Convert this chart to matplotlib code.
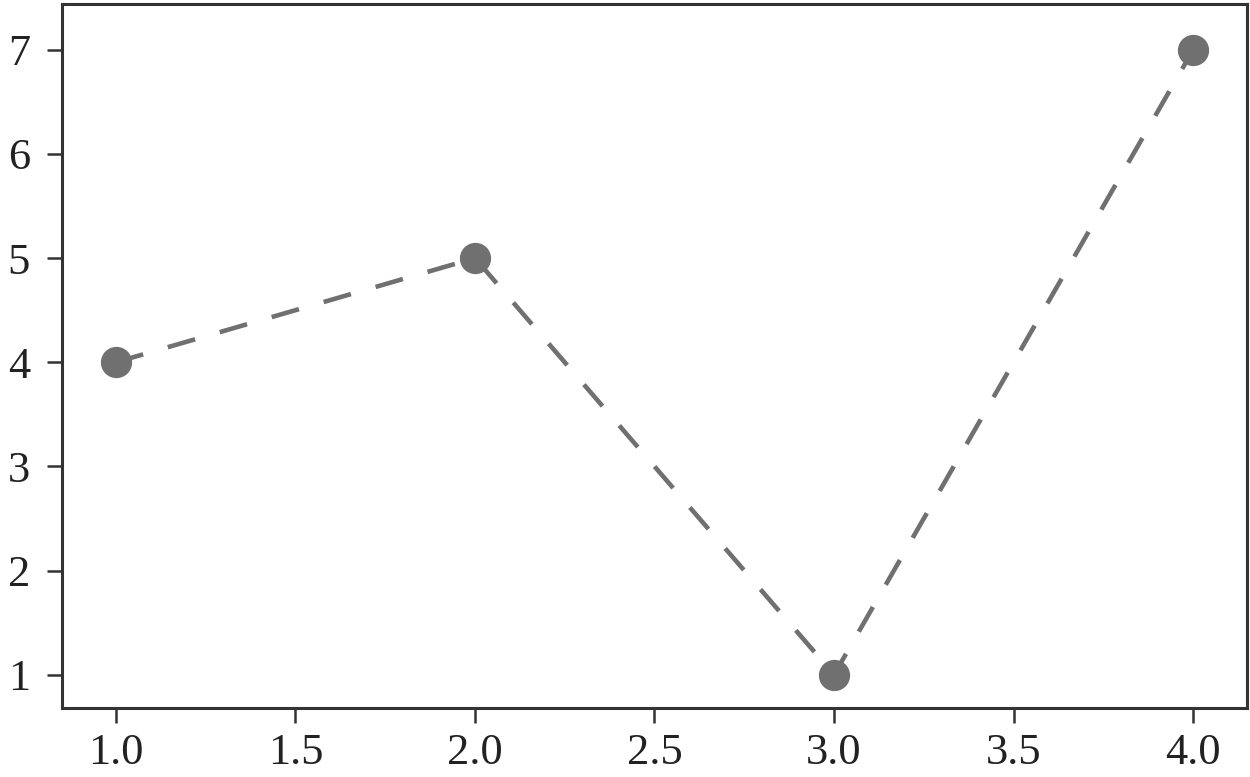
import matplotlib
matplotlib.use("Agg")
import matplotlib.pyplot as plt
from matplotlib import font_manager

# data
x_vals = [1, 2, 3, 4]
y_vals = [4, 5, 1, 7]
x_ticks = [1.0, 1.5, 2.0, 2.5, 3.0, 3.5, 4.0]
y_ticks = [1, 2, 3, 4, 5, 6, 7]

# pick the regular Times-like face by file, so nothing else gets substituted
serif_file = None
for f in font_manager.fontManager.ttflist:
    if f.fname.endswith('LiberationSerif-Regular.ttf'):
        serif_file = f.fname
        break
if serif_file:
    tick_font = font_manager.FontProperties(fname=serif_file, size=32)
else:
    tick_font = font_manager.FontProperties(family='serif', size=32)

fig = plt.figure(figsize=(12.5, 7.77), dpi=100)
ax = fig.add_axes([0.0496, 0.0888, 0.948, 0.906])

ax.plot(x_vals, y_vals, color='#707070', linewidth=3.3, linestyle=(0, (6.2, 5.6)),
        marker='o', markersize=21.5, markerfacecolor='#707070', markeredgecolor='#707070')

ax.set_xlim(0.85, 4.15)
ax.set_ylim(0.68, 7.44)
ax.set_xticks(x_ticks)
ax.set_yticks(y_ticks)
ax.set_xticklabels([f"{v:.1f}" for v in x_ticks], fontproperties=tick_font)
ax.set_yticklabels([str(v) for v in y_ticks], fontproperties=tick_font)

for s in ax.spines.values():
    s.set_linewidth(2.2)
    s.set_color('#333333')
ax.tick_params(axis='both', length=11, width=1.8, color='#333333', labelcolor='#222222')
ax.tick_params(axis='x', pad=7)
ax.tick_params(axis='y', pad=12)

fig.savefig("out.png", dpi=100)
